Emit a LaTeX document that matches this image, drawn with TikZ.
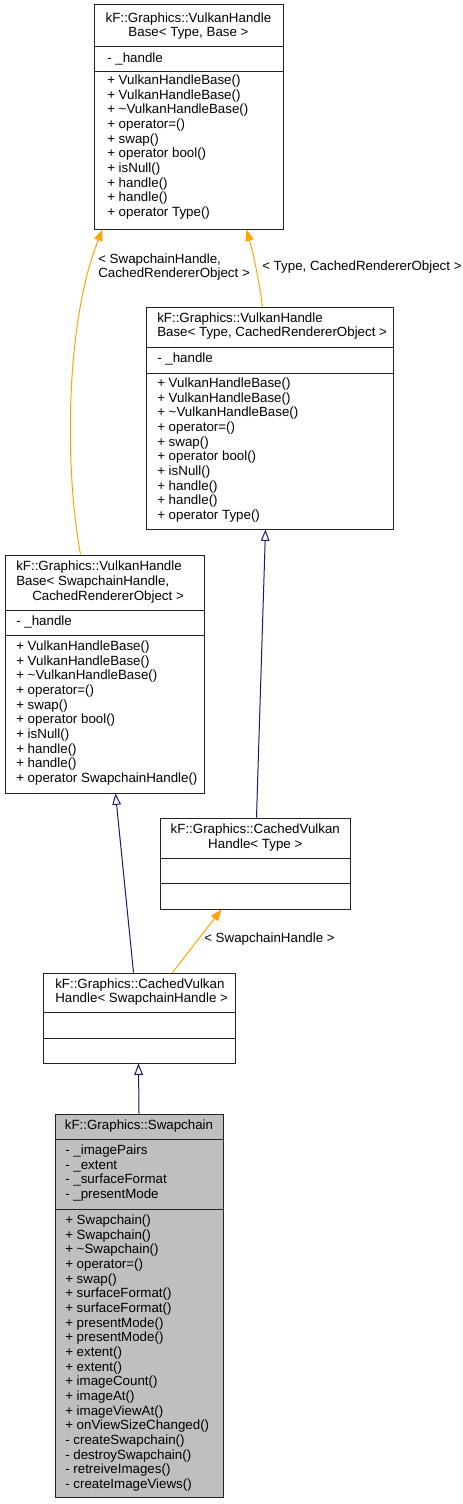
\documentclass[tikz,border=0pt]{standalone}
\usepackage{fontspec}
\setmainfont{Liberation Sans}
\usetikzlibrary{arrows.meta,fit,calc}
\definecolor{edgeorange}{HTML}{FFA500}
\definecolor{edgenavy}{HTML}{191970}
\definecolor{boxgray}{HTML}{BFBFBF}
\definecolor{boxline}{HTML}{222222}
\tikzset{
  box/.style={draw=boxline, line width=0.75pt, inner sep=0pt},
  sepline/.style={draw=boxline, line width=0.75pt},
  txt/.style={font=\fontsize{10}{11}\selectfont, inner sep=0pt, align=left, anchor=west},
  ctxt/.style={font=\fontsize{10}{11}\selectfont, inner sep=0pt, align=center, anchor=center},
  tmpl/.style={draw=edgeorange, line width=0.75pt, -{Triangle[length=8.5pt,width=6.5pt,fill=edgeorange]}},
  inh/.style={draw=edgenavy, line width=0.75pt, -{Triangle[open,length=8.5pt,width=6.5pt,fill=white]}}
}
\newcommand{\vhbmethods}[1]{+ VulkanHandleBase()\\+ VulkanHandleBase()\\+ \textasciitilde VulkanHandleBase()\\+ operator=()\\+ swap()\\+ operator bool()\\+ isNull()\\+ handle()\\+ handle()\\+ operator #1()}
\begin{document}
\begin{tikzpicture}[x=0.75pt,y=-0.75pt]
\useasboundingbox (0,0) rectangle (463,1504);
% Box A
\node[box, fit={(94,4)(283,229)}] (A) {};
\draw[sepline] (94,46) -- (283,46);
\draw[sepline] (94,71) -- (283,71);
\node[ctxt] (Atitle) at (188.5,26) {kF::Graphics::VulkanHandle\\Base< Type, Base >};
\node[txt] (Aattr) at (107,58.5) {- \_handle};
\node[txt] (Ameth) at (107,147) {\vhbmethods{Type}};
% Box B
\node[box, fit={(146.7,307)(393,529)}] (B) {};
\draw[sepline] (146.7,347) -- (393,347);
\draw[sepline] (146.7,373) -- (393,373);
\node[txt] (Btitle) at (157,326) {kF::Graphics::VulkanHandle\\Base< Type, CachedRendererObject >};
\node[txt] (Battr) at (157,359) {- \_handle};
\node[txt] (Bmeth) at (157,450) {\vhbmethods{Type}};
% Box C
\node[box, fit={(5,555)(204,793)}] (C) {};
\draw[sepline] (5,610) -- (204,610);
\draw[sepline] (5,635.3) -- (204,635.3);
\node[txt] (Ctitle) at (16,582) {kF::Graphics::VulkanHandle\\Base< SwapchainHandle,\\\hspace*{12pt}CachedRendererObject >};
\node[txt] (Cattr) at (16,622) {- \_handle};
\node[txt] (Cmeth) at (16,713) {\vhbmethods{SwapchainHandle}};
% Box D
\node[box, fit={(160.7,818)(350,909)}] (D) {};
\draw[sepline] (160.7,858) -- (350,858);
\draw[sepline] (160.7,883) -- (350,883);
\node[ctxt] (Dtitle) at (255.3,837.5) {kF::Graphics::CachedVulkan\\Handle< Type >};
% Box E
\node[box, fit={(43,973)(235,1063)}] (E) {};
\draw[sepline] (43,1012) -- (235,1012);
\draw[sepline] (43,1038) -- (235,1038);
\node[txt] (Etitle) at (55,992) {kF::Graphics::CachedVulkan\\Handle< SwapchainHandle >};
% Box F
\node[box, fill=boxgray, fit={(55,1114)(223,1497)}] (F) {};
\draw[sepline] (55,1139) -- (223,1139);
\draw[sepline] (55,1209) -- (223,1209);
\node[ctxt] (Ftitle) at (139,1126.5) {kF::Graphics::Swapchain};
\node[txt] (Fattr) at (65,1173) {- \_imagePairs\\- \_extent\\- \_surfaceFormat\\- \_presentMode};
\node[txt] (Fmeth) at (65,1353) {+ Swapchain()\\+ Swapchain()\\+ \textasciitilde Swapchain()\\+ operator=()\\+ swap()\\+ surfaceFormat()\\+ surfaceFormat()\\+ presentMode()\\+ presentMode()\\+ extent()\\+ extent()\\+ imageCount()\\+ imageAt()\\+ imageViewAt()\\+ onViewSizeChanged()\\- createSwapchain()\\- destroySwapchain()\\- retreiveImages()\\- createImageViews()};
% Edges
\draw[tmpl] ($(B.north west)+(116.3,0)$) .. controls (259,280) and (253,252) .. ($(A.south west)+(153,0)$);
\draw[tmpl] ($(C.north west)+(76,0)$) .. controls (64,465) and (66,320) .. ($(A.south west)+(9,0)$);
\draw[inh] ($(D.north west)+(96.3,0)$) -- ($(B.south west)+(119.3,0)$);
\draw[inh] ($(E.north west)+(91,0)$) -- ($(C.south west)+(111,0)$);
\draw[tmpl] ($(E.north west)+(130,0)$) -- ($(D.south west)+(61.3,0)$);
\draw[inh] (F.north) -- ($(E.south west)+(96,0)$);
% Labels
\node[txt] (L1) at (262,267) {< Type, CachedRendererObject >};
\node[txt] (L2) at (98,267) {< SwapchainHandle,\\CachedRendererObject >};
\node[txt] (L3) at (204,939.5) {< SwapchainHandle >};
\end{tikzpicture}
\end{document}
